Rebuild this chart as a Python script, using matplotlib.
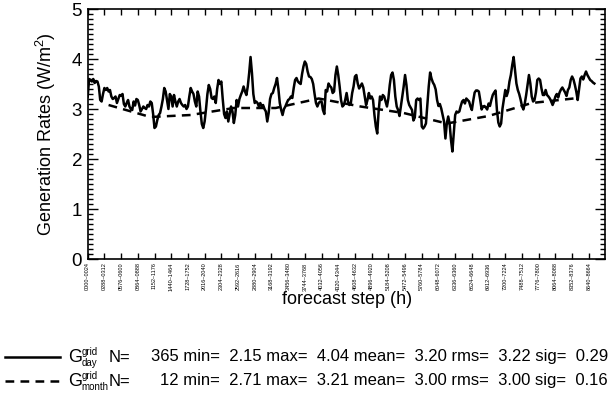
import numpy as np
import matplotlib
matplotlib.use("Agg")
import matplotlib.pyplot as plt
from matplotlib.lines import Line2D
import matplotlib.transforms as mtransforms

plt.rcParams['font.family'] = ['Liberation Sans', 'DejaVu Sans']
plt.rcParams['mathtext.fontset'] = 'custom'
plt.rcParams['mathtext.rm'] = 'Liberation Sans'
plt.rcParams['mathtext.it'] = 'Liberation Sans:italic'

# ---------------- data ----------------
daily_values = [
    3.25, 3.60, 3.58, 3.55, 3.60, 3.52, 3.56, 3.55, 3.45, 3.18,
    3.15, 3.30, 3.42, 3.38, 3.42, 3.35, 3.38, 3.25, 3.20, 3.22,
    3.25, 3.12, 3.20, 3.28, 3.27, 3.30, 3.10, 3.05, 3.12, 3.18,
    3.05, 3.00, 2.98, 3.15, 3.07, 3.20, 3.18, 3.08, 2.95, 3.00,
    3.05, 3.02, 3.00, 3.08, 3.05, 3.15, 3.12, 2.90, 2.62, 2.65,
    2.78, 2.88, 2.92, 3.05, 3.20, 3.42, 3.35, 3.18, 3.00, 3.30,
    3.25, 3.05, 3.28, 3.15, 3.05, 3.15, 3.20, 3.12, 3.08, 3.05,
    3.08, 3.00, 3.05, 3.25, 3.42, 3.35, 3.30, 3.15, 3.05, 3.35,
    3.25, 2.95, 2.70, 2.62, 2.75, 3.00, 3.30, 3.48, 3.40, 3.22,
    3.20, 3.25, 3.12, 3.40, 3.58, 3.50, 3.55, 3.20, 2.90, 2.82,
    2.95, 2.75, 2.90, 3.05, 2.95, 2.72, 2.88, 3.18, 3.05, 3.20,
    3.28, 3.35, 3.45, 3.35, 3.28, 3.45, 3.72, 4.04, 3.72, 3.30,
    3.12, 3.15, 3.12, 3.05, 3.12, 3.05, 3.08, 3.00, 2.95, 2.75,
    2.92, 3.20, 3.30, 3.32, 3.42, 3.50, 3.62, 3.40, 3.12, 2.98,
    2.88, 3.00, 3.05, 3.12, 3.18, 3.20, 3.25, 3.22, 3.42, 3.58,
    3.62, 3.55, 3.52, 3.50, 3.70, 3.85, 3.95, 3.90, 3.75, 3.65,
    3.64, 3.60, 3.50, 3.30, 3.12, 3.05, 3.12, 3.15, 3.15, 2.98,
    2.90, 3.38, 3.35, 3.51, 3.46, 3.43, 3.32, 3.35, 3.68, 3.85,
    3.68, 3.45, 3.18, 3.05, 3.08, 3.18, 3.32, 3.15, 3.08, 3.11,
    3.32, 3.45, 3.65, 3.68, 3.51, 3.41, 3.46, 3.51, 3.43, 3.25,
    3.08, 3.18, 3.32, 3.21, 3.25, 3.18, 2.88, 2.65, 2.51, 2.95,
    3.25, 3.18, 3.28, 3.25, 3.15, 3.05, 3.21, 3.48, 3.68, 3.73,
    3.58, 3.25, 3.05, 2.98, 2.86, 3.05, 3.25, 3.45, 3.68, 3.48,
    3.18, 3.08, 3.03, 2.98, 2.77, 2.83, 3.18, 3.21, 3.18, 3.21,
    2.65, 2.61, 2.65, 2.71, 3.08, 3.45, 3.73, 3.61, 3.53, 3.48,
    3.39, 3.18, 3.06, 3.10, 3.01, 2.88, 2.75, 2.41, 2.71, 2.85,
    2.71, 2.38, 2.15, 2.51, 2.88, 2.95, 2.93, 2.95, 3.06, 3.15,
    3.18, 3.11, 3.21, 3.18, 3.15, 3.05, 2.98, 3.17, 3.33, 3.37,
    3.37, 3.35, 3.18, 2.99, 3.05, 3.06, 3.03, 2.99, 3.11, 3.06,
    3.18, 3.28, 3.33, 3.37, 2.98, 2.73, 2.65, 2.71, 3.01, 3.19,
    3.38, 3.26, 3.35, 3.55, 3.68, 3.88, 4.04, 3.78, 3.51, 3.38,
    3.30, 3.19, 3.06, 2.99, 3.11, 3.28, 3.48, 3.68, 3.51, 3.25,
    3.15, 3.18, 3.33, 3.58, 3.61, 3.58, 3.41, 3.28, 3.28, 3.38,
    3.28, 3.25, 3.21, 3.15, 3.08, 3.15, 3.25, 3.30, 3.23, 3.33,
    3.39, 3.43, 3.38, 3.33, 3.26, 3.38, 3.43, 3.58, 3.65, 3.59,
    3.48, 3.35, 3.18, 3.39, 3.61, 3.65, 3.59, 3.68, 3.75, 3.68,
    3.63, 3.58, 3.56, 3.53, 3.51,
]
month_days = [15, 45, 74, 105, 135, 166, 196, 227, 258, 288, 319, 349]
monthly_values = [3.08, 2.84, 2.88, 3.02, 3.02, 3.21, 3.05, 2.92, 2.71, 2.86, 3.12, 3.21]

tick_days = list(range(0, 361, 12))
tick_labels = [
    "0000–0024", "0288–0312", "0576–0600", "0864–0888", "1152–1176",
    "1440–1464", "1728–1752", "2016–2040", "2304–2328", "2592–2616",
    "2880–2904", "3168–3192", "3456–3480", "3744–3768", "4032–4056",
    "4320–4344", "4608–4632", "4896–4920", "5184–5208", "5472–5496",
    "5760–5784", "6048–6072", "6336–6360", "6624–6648", "6912–6936",
    "7200–7224", "7488–7512", "7776–7800", "8064–8088", "8352–8376",
    "8640–8664",
]
legend_sup = ["grid", "grid"]
legend_sub = ["day", "month"]
legend_stats = ["365 min=  2.15 max=  4.04 mean=  3.20 rms=  3.22 sig=  0.29",
                "12 min=  2.71 max=  3.21 mean=  3.00 rms=  3.00 sig=  0.16"]

# ---------------- figure ----------------
W, H = 611, 400
fig = plt.figure(figsize=(W / 100, H / 100), dpi=100)
ax = fig.add_axes([87.7 / W, 141 / H, (605.5 - 87.7) / W, 250 / H])

days = np.arange(len(daily_values))
ax.plot(days, daily_values, color='black', lw=1.8, solid_joinstyle='round')
ax.plot(month_days, monthly_values, color='black', lw=1.8,
        linestyle=(0, (3.5, 2.5)))

ax.set_xlim(0, 372)
ax.set_ylim(0, 5)
ax.set_yticks([0, 1, 2, 3, 4, 5])
ax.set_yticks(np.arange(0, 5.01, 0.1), minor=True)
ax.set_xticks(tick_days)
ax.set_xticklabels(tick_labels, rotation=90, fontsize=4.0, va='top', ha='center')
offset = mtransforms.ScaledTranslation(4 / 100, 0, fig.dpi_scale_trans)
for lab in ax.get_xticklabels():
    lab.set_transform(lab.get_transform() + offset)

ax.tick_params(axis='x', which='major', direction='in', length=4, width=1,
               top=True, bottom=True, pad=2.5)
ax.tick_params(axis='y', which='major', direction='in', length=7, width=1,
               left=True, right=True, labelsize=13.5, pad=4)
ax.tick_params(axis='y', which='minor', direction='in', length=3.5, width=1,
               left=True, right=True)
for s in ax.spines.values():
    s.set_linewidth(1.2)

ax.set_ylabel("Generation Rates (W/m$^2$)", fontsize=13, labelpad=10)
fig.text(346.6 / W, 1 - 300 / H, "forecast step (h)", fontsize=13,
         ha='center', va='center')

# ---------------- legend ----------------
rows_y = [357, 381]
styles = ['-', (0, (3.5, 2.5))]
for i in range(2):
    yf = 1 - rows_y[i] / H
    fig.add_artist(Line2D([5 / W, 60 / W], [yf, yf], color='black', lw=1.8,
                          linestyle=styles[i], transform=fig.transFigure))
    fig.text(68 / W, yf, "G", fontsize=13, va='center', ha='left')
    fig.text(81.5 / W, yf + 5 / H, legend_sup[i], fontsize=7, va='center', ha='left')
    fig.text(81.5 / W, yf - 6 / H, legend_sub[i], fontsize=7, va='center', ha='left')
    fig.text(109 / W, yf, "N=", fontsize=12, va='center', ha='left')
    fig.text(608 / W, yf, legend_stats[i], fontsize=12, va='center', ha='right')

fig.savefig("out.png", dpi=100)
